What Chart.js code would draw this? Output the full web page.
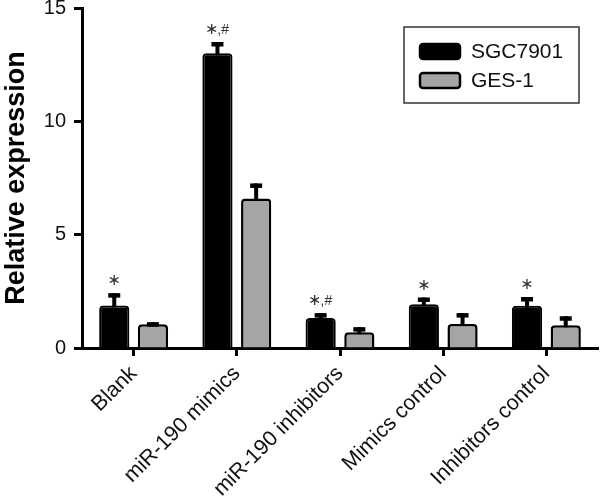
<!DOCTYPE html>
<html>
<head>
<meta charset="utf-8">
<script src="https://cdn.jsdelivr.net/npm/chart.js@4.4.0/dist/chart.umd.min.js"></script>
<style>
  html, body { margin: 0; padding: 0; background: #fff; }
</style>
</head>
<body>
<canvas id="chart" width="600" height="498"></canvas>
<script>
const categories = ["Blank", "miR-190 mimics", "miR-190 inhibitors", "Mimics control", "Inhibitors control"];
const sgc7901 = [1.88, 13.0, 1.32, 1.93, 1.86];
const sgc7901Err = [0.54, 0.5, 0.22, 0.3, 0.39];
const ges1 = [1.05, 6.6, 0.7, 1.06, 1.0];
const ges1Err = [0.09, 0.66, 0.22, 0.48, 0.4];
const marks = ["*", "*,#", "*,#", "*", "*"];
const yTicks = [0, 5, 10, 15];

const FONT = "'Liberation Sans', Arial, sans-serif";
const GRAY = "#a5a5a8";

// upper error bars: stem + thick cap
const errorBars = {
  id: "errorBars",
  afterDatasetsDraw(chart) {
    const ctx = chart.ctx;
    const y = chart.scales.y;
    const errs = [sgc7901Err, ges1Err];
    ctx.save();
    ctx.fillStyle = "#000";
    chart.data.datasets.forEach((ds, i) => {
      chart.getDatasetMeta(i).data.forEach((bar, j) => {
        const top = y.getPixelForValue(ds.data[j] + errs[i][j]);
        ctx.fillRect(bar.x - 2, top, 4, bar.y - top + 2);
        ctx.fillRect(bar.x - 6, top, 12, 4.5);
      });
    });
    ctx.restore();
  },
};

// significance marks above the SGC7901 bars ("*" then small ",#")
const sigMarks = {
  id: "sigMarks",
  afterDatasetsDraw(chart) {
    const ctx = chart.ctx;
    const y = chart.scales.y;
    const meta = chart.getDatasetMeta(0);
    const starFont = "16px 'DejaVu Sans', sans-serif";
    const smallFont = "14px " + FONT;
    ctx.save();
    ctx.fillStyle = "#333";
    ctx.textBaseline = "middle";
    ctx.textAlign = "left";
    marks.forEach((m, j) => {
      const bar = meta.data[j];
      const cy = y.getPixelForValue(sgc7901[j] + sgc7901Err[j]) - 12;
      const star = "\u2217";
      const rest = m.slice(1);
      ctx.font = starFont;
      const ws = ctx.measureText(star).width;
      ctx.font = smallFont;
      const wr = rest ? ctx.measureText(rest).width : 0;
      const x0 = bar.x - (ws + wr) / 2;
      ctx.font = starFont;
      ctx.fillText(star, x0, cy);
      if (rest) {
        ctx.font = smallFont;
        ctx.fillText(rest, x0 + ws - 1, cy);
      }
    });
    ctx.restore();
  },
};

// boxed legend inside the plot, top right
const boxLegend = {
  id: "boxLegend",
  afterDraw(chart) {
    const ctx = chart.ctx;
    ctx.save();
    ctx.strokeStyle = "#333";
    ctx.lineWidth = 1.5;
    ctx.strokeRect(404, 27, 175, 76);
    chart.data.datasets.forEach((ds, i) => {
      const sy = i === 0 ? 44 : 73;
      ctx.beginPath();
      ctx.roundRect(420, sy, 40, 15, 3);
      ctx.fillStyle = ds.backgroundColor;
      ctx.fill();
      ctx.lineWidth = 2.5;
      ctx.strokeStyle = "#000";
      ctx.stroke();
      ctx.fillStyle = "#111";
      ctx.font = "21px " + FONT;
      ctx.textBaseline = "middle";
      ctx.fillText(ds.label, 471, sy + 8);
    });
    ctx.restore();
  },
};

new Chart(document.getElementById("chart"), {
  type: "bar",
  data: {
    labels: categories,
    datasets: [
      {
        label: "SGC7901",
        data: sgc7901,
        backgroundColor: "#000",
        borderColor: "#000",
        borderWidth: 2,
        borderRadius: 4,
      },
      {
        label: "GES-1",
        data: ges1,
        backgroundColor: GRAY,
        borderColor: "#000",
        borderWidth: 2.5,
        borderRadius: 4,
      },
    ],
  },
  options: {
    responsive: false,
    animation: false,
    categoryPercentage: 0.75,
    barPercentage: 0.78,
    layout: { padding: { left: 0, right: 2, top: 0, bottom: 0 } },
    plugins: {
      legend: { display: false },
      tooltip: { enabled: false },
    },
    scales: {
      x: {
        grid: {
          offset: false,
          drawOnChartArea: false,
          tickLength: 8,
          tickWidth: 3,
          tickColor: "#000",
        },
        border: { color: "#000", width: 3 },
        ticks: {
          color: "#111",
          font: { family: FONT, size: 21.5 },
          minRotation: 45,
          maxRotation: 45,
          padding: 5,
        },
        afterFit(scale) {
          scale.height = 150;
          scale.paddingLeft = 0;
          scale.paddingRight = 0;
        },
      },
      y: {
        min: 0,
        max: 15,
        afterBuildTicks(scale) {
          scale.ticks = yTicks.map((v) => ({ value: v }));
        },
        grid: {
          drawOnChartArea: false,
          tickLength: 8,
          tickWidth: 3,
          tickColor: "#000",
        },
        border: { color: "#000", width: 3 },
        ticks: {
          color: "#111",
          font: { family: FONT, size: 20 },
          padding: 8,
        },
        title: {
          display: true,
          text: "Relative expression",
          color: "#000",
          font: { family: FONT, size: 27, weight: "bold" },
          padding: { top: 0, bottom: 0 },
        },
        afterFit(scale) {
          scale.width = 82;
          scale.paddingTop = 8;
          scale.paddingBottom = 0;
        },
      },
    },
  },
  plugins: [errorBars, sigMarks, boxLegend],
});
</script>
</body>
</html>
